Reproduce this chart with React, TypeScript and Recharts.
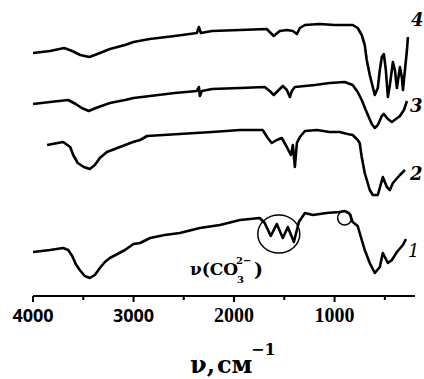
import React from "react";
import { LineChart, Line, XAxis, YAxis, ReferenceDot } from "recharts";

// IR spectra, wavenumber (cm-1) vs transmittance (arbitrary units, curves offset)
const wn1 = [4000, 3830, 3700, 3650, 3610, 3575, 3535, 3485, 3435, 3385, 3335, 3285, 3235, 3085, 3000, 2935, 2835, 2690, 2540, 2340, 2140, 1940, 1745, 1695, 1635, 1575, 1515, 1465, 1405, 1355, 1295, 1215, 1080, 950, 900, 850, 820, 770, 750, 700, 650, 600, 550, 520, 470, 430, 380, 320, 290];
const t1 = [44, 46, 48, 46, 40, 32, 26, 20, 18, 21, 28, 34, 38, 46, 52, 53, 58, 61, 63, 68, 71, 76, 78, 73, 60, 72, 58, 69, 54, 74, 83, 81, 83, 84, 85, 82, 74, 70, 63, 46, 33, 23, 29, 43, 33, 36, 44, 51, 57];

const wn2 = [3860, 3700, 3630, 3600, 3555, 3495, 3435, 3385, 3335, 3265, 3135, 3005, 2935, 2865, 2220, 1940, 1715, 1665, 1625, 1575, 1525, 1475, 1435, 1415, 1395, 1375, 1345, 1295, 1175, 1050, 950, 870, 820, 770, 750, 730, 700, 650, 620, 570, 520, 480, 450, 420, 350, 300];
const t2 = [151, 154, 149, 141, 133, 129, 127, 131, 138, 144, 149, 154, 156, 160, 164, 166, 166, 158, 153, 156, 158, 149, 141, 151, 129, 153, 159, 165, 166, 164, 164, 162, 161, 156, 153, 139, 123, 106, 101, 101, 119, 109, 106, 113, 121, 126];

const wn3 = [4000, 3830, 3650, 3575, 3515, 3445, 3375, 3235, 3085, 3000, 2835, 2590, 2370, 2350, 2340, 2320, 2220, 1940, 1695, 1645, 1605, 1555, 1515, 1475, 1445, 1425, 1395, 1295, 1195, 1050, 900, 820, 770, 730, 690, 660, 630, 600, 570, 530, 510, 470, 430, 390, 350, 310, 280];
const t3 = [192, 194, 196, 192, 188, 185, 188, 193, 196, 198, 200, 203, 205, 209, 200, 205, 207, 208, 209, 205, 201, 206, 210, 206, 199, 205, 209, 210, 211, 213, 214, 211, 204, 196, 186, 179, 172, 168, 171, 180, 182, 177, 174, 177, 180, 186, 195];

const wn4 = [4000, 3830, 3690, 3610, 3530, 3440, 3385, 3235, 3085, 3000, 2840, 2590, 2370, 2350, 2330, 2220, 1940, 1675, 1605, 1545, 1475, 1415, 1375, 1345, 1295, 1150, 1000, 820, 770, 730, 700, 680, 650, 630, 600, 570, 550, 530, 510, 490, 470, 450, 420, 400, 380, 350, 330, 320, 300, 280, 270];
const t4 = [243, 245, 248, 245, 241, 239, 241, 247, 251, 254, 257, 260, 263, 269, 263, 265, 266, 267, 260, 265, 266, 265, 262, 268, 271, 272, 271, 271, 268, 261, 251, 236, 221, 213, 201, 208, 226, 239, 242, 226, 199, 211, 234, 226, 208, 229, 218, 206, 226, 246, 259];

const xTicks = [4000, 3500, 3000, 2500, 2000, 1500, 1000, 500];
const xLabels: Record<number, string> = { 4000: "4000", 3000: "3000", 2000: "2000", 1000: "1000" };

const curve = (w: number[], t: number[]) => w.map((x, i) => ({ wn: x, t: t[i] }));
const series = [curve(wn1, t1), curve(wn2, t2), curve(wn3, t3), curve(wn4, t4)];

const serif = "'DejaVu Serif', serif";

function Tick(props: any) {
  const { x, y, payload } = props;
  const label = xLabels[payload.value];
  const sans = payload.value >= 3000;
  return (
    <g>
      <line x1={x} x2={x} y1={y} y2={y + (label ? 6 : 4)} stroke="#000" strokeWidth={2} />
      {label && (
        <text
          x={x}
          y={y + 26}
          textAnchor="middle"
          fontSize={sans ? 18 : 20}
          fontWeight={700}
          fontFamily={sans ? "'Open Sans', sans-serif" : "'Liberation Serif', serif"}
          fill="#000"
        >
          {label}
        </text>
      )}
    </g>
  );
}

export default function App() {
  return (
    <div style={{ position: "absolute", left: 0, top: 0, width: 424, height: 379, background: "#fff" }}>
      <LineChart width={424} height={379} margin={{ top: 0, right: 9, bottom: 53, left: 33 }}>
        <XAxis
          dataKey="wn"
          type="number"
          domain={[200, 4000]}
          reversed
          allowDataOverflow
          ticks={xTicks}
          interval={0}
          tickSize={0}
          tickMargin={0}
          height={30}
          axisLine={{ stroke: "#000", strokeWidth: 2 }}
          tickLine={false}
          tick={<Tick />}
        />
        <YAxis hide type="number" domain={[0, 296]} />
        {series.map((d, i) => (
          <Line
            key={i}
            data={d}
            dataKey="t"
            type="linear"
            stroke="#000"
            strokeWidth={2.6}
            strokeLinejoin="round"
            dot={false}
            isAnimationActive={false}
          />
        ))}
        <ReferenceDot
          x={1555}
          y={62}
          r={20}
          shape={(p: any) => <ellipse cx={p.cx} cy={p.cy} rx={21} ry={19} fill="none" stroke="#000" strokeWidth={1.5} />}
        />
        <ReferenceDot x={900} y={78} r={7} fill="none" stroke="#000" strokeWidth={1.5} />
      </LineChart>
      <svg width={424} height={379} style={{ position: "absolute", left: 0, top: 0, pointerEvents: "none" }}>
        <g fontFamily={serif} fontStyle="italic" fontSize={18} fill="#000">
          <text x={411} y={26} fontWeight={700}>4</text>
          <text x={410} y={112} fontWeight={700}>3</text>
          <text x={410} y={180} fontWeight={700}>2</text>
          <text x={408} y={257}>1</text>
        </g>
        <g fontFamily={serif} fontWeight={700} fill="#000">
          <text x={190} y={275} fontSize={17}>ν(CO</text>
          <text x={236} y={264} fontSize={10}>2−</text>
          <text x={237} y={283} fontSize={10}>3</text>
          <text x={254} y={276} fontSize={19}>)</text>
          <text x={190} y={373} fontSize={24}>ν,</text>
          <text x={217} y={373} fontSize={24}>см</text>
          <text x={251} y={355} fontSize={16}>−1</text>
        </g>
      </svg>
    </div>
  );
}
